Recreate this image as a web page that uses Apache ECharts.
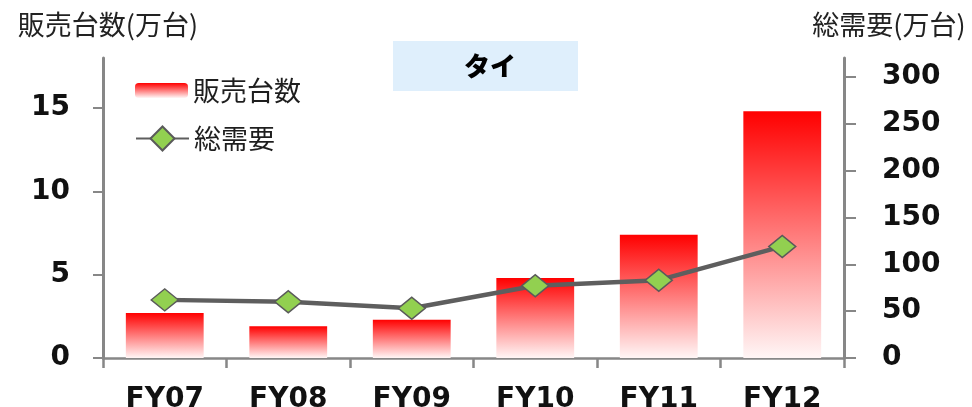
<!DOCTYPE html>
<html>
<head>
<meta charset="utf-8">
<script src="https://cdn.jsdelivr.net/npm/echarts@6/dist/echarts.min.js"></script>
<style>
  html, body { margin: 0; padding: 0; background: #ffffff; }
  #chart { width: 972px; height: 407px; }
</style>
</head>
<body>
<div id="chart"></div>
<script>
// Fiscal years on the category axis
const categories = ['FY07', 'FY08', 'FY09', 'FY10', 'FY11', 'FY12'];
// Units sold (10k units), left axis
const salesUnits = [2.7, 1.9, 2.3, 4.8, 7.4, 14.8];
// Total market demand (10k units), right axis
const totalDemand = [62, 60, 53, 77, 83, 119];
// Labelled ticks on each value axis
const leftTicks = [0, 5, 10, 15];
const rightTicks = [0, 50, 100, 150, 200, 250, 300];

const titleText = 'タイ';
const salesName = '販売台数';
const demandName = '総需要';
const leftAxisName = '販売台数(万台)';
const rightAxisName = '総需要(万台)';

const cjkFont = '"Noto Sans CJK JP", "Noto Sans", sans-serif';
const numFont = '"DejaVu Sans", Verdana, sans-serif';
const axisGray = '#878787';
const legendText = { fontFamily: cjkFont, fontSize: 27, color: '#1e1e1e' };
const valueLabel = {
  fontFamily: numFont, fontSize: 28, fontWeight: 'bold', color: '#111111',
  verticalAlign: 'middle', padding: [6, 0, 0, 0]
};

const chart = echarts.init(document.getElementById('chart'), null, { renderer: 'canvas' });

chart.setOption({
  animation: false,
  backgroundColor: '#ffffff',
  // Fixed plot rectangle; the year labels are allowed to run off the bottom edge
  grid: { left: 103, right: 128, top: 58, bottom: 49, containLabel: false, outerBoundsMode: 'none' },
  graphic: [{
    type: 'rect',
    shape: { x: 393, y: 41, width: 185, height: 50 },
    style: { fill: '#dfeffc' },
    z: 0
  }],
  title: {
    text: titleText,
    left: 485,
    top: 48,
    textAlign: 'center',
    textStyle: { fontFamily: cjkFont, fontSize: 26, fontWeight: 900, color: '#000000' }
  },
  // Two legends so the bar swatch and the line-with-diamond icon get their own heights
  legend: [{
    orient: 'vertical',
    left: 135,
    top: 77,
    padding: 0,
    itemWidth: 53,
    itemHeight: 15,
    textStyle: legendText,
    data: [salesName]
  }, {
    orient: 'vertical',
    left: 135,
    top: 125,
    padding: 0,
    itemWidth: 53,
    itemHeight: 30,
    textStyle: legendText,
    data: [demandName]
  }],
  xAxis: {
    type: 'category',
    data: categories,
    boundaryGap: true,
    axisLine: { lineStyle: { color: axisGray, width: 2.5 } },
    axisTick: { show: true, alignWithLabel: false, length: 10, lineStyle: { color: axisGray, width: 2.5 } },
    axisLabel: { margin: 28, fontFamily: numFont, fontSize: 28, fontWeight: 'bold', color: '#111111' },
    splitLine: { show: false }
  },
  yAxis: [{
    type: 'value',
    position: 'left',
    min: 0,
    max: 18,
    interval: 5,
    name: leftAxisName,
    nameLocation: 'end',
    nameGap: 20,
    nameTextStyle: { fontFamily: cjkFont, fontSize: 27, color: '#222222', align: 'center', padding: [0, 0, 0, 10] },
    axisLine: { show: true, lineStyle: { color: axisGray, width: 3 } },
    axisTick: { show: true, length: 10, customValues: leftTicks, lineStyle: { color: axisGray, width: 2 } },
    axisLabel: Object.assign({ margin: 33, customValues: leftTicks }, valueLabel),
    splitLine: { show: false }
  }, {
    type: 'value',
    position: 'right',
    min: 0,
    max: 320,
    interval: 50,
    name: rightAxisName,
    nameLocation: 'end',
    nameGap: 20,
    nameTextStyle: { fontFamily: cjkFont, fontSize: 27, color: '#222222', align: 'center', padding: [0, 0, 0, 90] },
    axisLine: { show: true, lineStyle: { color: axisGray, width: 3 } },
    axisTick: { show: true, length: 12, customValues: rightTicks, lineStyle: { color: axisGray, width: 2 } },
    axisLabel: Object.assign({ margin: 38, customValues: rightTicks }, valueLabel),
    splitLine: { show: false }
  }],
  series: [{
    name: salesName,
    type: 'bar',
    yAxisIndex: 0,
    data: salesUnits,
    barWidth: '63%',
    itemStyle: {
      color: new echarts.graphic.LinearGradient(0, 0, 0, 1, [
        { offset: 0, color: '#ff0000' },
        { offset: 1, color: '#fff6f6' }
      ])
    },
    z: 2
  }, {
    name: demandName,
    type: 'line',
    yAxisIndex: 1,
    data: totalDemand,
    symbol: 'diamond',
    symbolSize: [27, 22],
    showAllSymbol: true,
    lineStyle: { color: '#5e5e5e', width: 4.5 },
    itemStyle: { color: '#92d050', borderColor: '#5a5a5a', borderWidth: 1.5 },
    z: 3
  }]
});
</script>
</body>
</html>
